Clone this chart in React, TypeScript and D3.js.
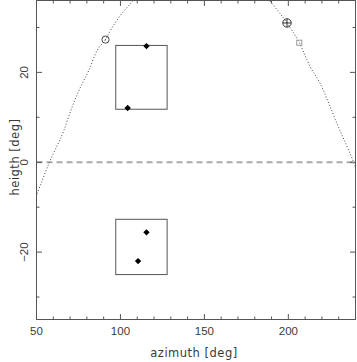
import React from "react";
import * as d3 from "d3";

const W = 357;
const H = 362;

const xDomain = [50, 240];
const yDomain = [-35, 36];
const xMajorTicks = [50, 100, 150, 200];
const xMinorTicks = [60, 70, 80, 90, 110, 120, 130, 140, 160, 170, 180, 190, 210, 220, 230];
const yMajorTicks = [-20, 0, 20];
const yMinorTicks = [-30, -10, 10, 30];

// sun path (azimuth, height)
const pathAz = [50.4, 57.7, 66.3, 70.8, 76.2, 81.1, 86.1, 91.1, 94, 100, 106, 120, 135, 148, 162, 176, 190.3, 199.2, 206.5, 213.1, 219, 225.4, 229.9, 235.9, 238.9, 240.5];
const pathH = [-7.0, 0, 7.1, 11.9, 16.7, 20.4, 24.9, 27.3, 29.3, 32.7, 35.3, 41.0, 44.4, 45.4, 44.3, 41.2, 35.3, 31.0, 26.6, 21.2, 17.5, 11.9, 7.8, 2.7, 0, -1.8];

// boxes: [azMin, azMax, hMin, hMax]
const boxAzMin = [97.2, 97.2];
const boxAzMax = [127.8, 127.8];
const boxHMin = [11.8, -25.0];
const boxHMax = [26.0, -12.7];

// diamonds
const diamondAz = [115.5, 104.3, 115.5, 110.5];
const diamondH = [25.85, 12.07, -15.6, -22.0];

// special markers
const circleMarker = [91.1, 27.3];
const sunMarker = [199.2, 31.0];
const squareMarker = [206.5, 26.6];

export default function App() {
  const left = 36.5, right = 355.5, top = 0.5, bottom = 319.5;
  const x = d3.scaleLinear().domain(xDomain).range([left, right]);
  const y = d3.scaleLinear().domain(yDomain).range([bottom, top]);

  const pts = pathAz.map((a, i) => [a, pathH[i]] as [number, number]);
  const line = d3
    .line<[number, number]>()
    .x((d) => x(d[0]))
    .y((d) => y(d[1]))
    .curve(d3.curveMonotoneX);

  const axisColor = "#555";
  const maj = 5.5, min = 3;
  const font = "'Liberation Sans', Arial, sans-serif";
  const textColor = "#3a3a3a";

  return (
    <svg width={W} height={H} style={{ position: "absolute", left: 0, top: 0, background: "#fff" }}>
      <defs>
        <clipPath id="plotclip">
          <rect x={left} y={top} width={right - left} height={bottom - top} />
        </clipPath>
      </defs>
      <rect x={0} y={0} width={W} height={H} fill="#fff" />

      {/* zero dashed line */}
      <line x1={left} x2={right} y1={y(0)} y2={y(0)} stroke="#aaa" strokeWidth={2} strokeDasharray="6 4" />

      {/* dotted sun path */}
      <path d={line(pts) || ""} fill="none" stroke="#444" strokeWidth={1} strokeDasharray="1 2" clipPath="url(#plotclip)" />

      {/* boxes */}
      {boxAzMin.map((a, i) => (
        <rect
          key={"b" + i}
          x={x(a)}
          y={y(boxHMax[i])}
          width={x(boxAzMax[i]) - x(a)}
          height={y(boxHMin[i]) - y(boxHMax[i])}
          fill="none"
          stroke="#555"
          strokeWidth={1}
        />
      ))}

      {/* diamonds */}
      {diamondAz.map((a, i) => {
        const cx = x(a), cy = y(diamondH[i]), r = 3.2;
        return (
          <path
            key={"d" + i}
            d={`M${cx},${cy - r}L${cx + r},${cy}L${cx},${cy + r}L${cx - r},${cy}Z`}
            fill="#000"
          />
        );
      })}

      {/* circle marker */}
      <circle cx={x(circleMarker[0])} cy={y(circleMarker[1])} r={3.6} fill="none" stroke="#444" strokeWidth={1} />
      <circle cx={x(circleMarker[0])} cy={y(circleMarker[1])} r={0.6} fill="#444" />

      {/* sun marker */}
      <g stroke="#333" strokeWidth={1} fill="none">
        <circle cx={x(sunMarker[0])} cy={y(sunMarker[1])} r={4.2} />
        <line x1={x(sunMarker[0]) - 4.2} x2={x(sunMarker[0]) + 4.2} y1={y(sunMarker[1])} y2={y(sunMarker[1])} />
        <line x1={x(sunMarker[0])} x2={x(sunMarker[0])} y1={y(sunMarker[1]) - 4.2} y2={y(sunMarker[1]) + 4.2} />
      </g>

      {/* square marker */}
      <rect x={x(squareMarker[0]) - 2.5} y={y(squareMarker[1]) - 2.5} width={5} height={5} fill="none" stroke="#999" strokeWidth={1} />

      {/* frame */}
      <rect x={left} y={top} width={right - left} height={bottom - top} fill="none" stroke={axisColor} strokeWidth={1} />

      {/* x ticks */}
      {xMajorTicks.map((t) => (
        <g key={"xM" + t} stroke={axisColor}>
          <line x1={x(t)} x2={x(t)} y1={bottom} y2={bottom - maj} />
          <line x1={x(t)} x2={x(t)} y1={top} y2={top + maj} />
        </g>
      ))}
      {xMinorTicks.map((t) => (
        <g key={"xm" + t} stroke={axisColor}>
          <line x1={x(t)} x2={x(t)} y1={bottom} y2={bottom - min} />
          <line x1={x(t)} x2={x(t)} y1={top} y2={top + min} />
        </g>
      ))}
      {/* y ticks */}
      {yMajorTicks.map((t) => (
        <g key={"yM" + t} stroke={axisColor}>
          <line x1={left} x2={left + maj} y1={y(t)} y2={y(t)} />
          <line x1={right} x2={right - maj} y1={y(t)} y2={y(t)} />
        </g>
      ))}
      {yMinorTicks.map((t) => (
        <g key={"ym" + t} stroke={axisColor}>
          <line x1={left} x2={left + min} y1={y(t)} y2={y(t)} />
          <line x1={right} x2={right - min} y1={y(t)} y2={y(t)} />
        </g>
      ))}

      {/* tick labels */}
      {xMajorTicks.map((t) => (
        <text key={"xl" + t} x={x(t)} y={335} textAnchor="middle" fontFamily={font} fontSize={11.5} fill={textColor}>
          {String(t)}
        </text>
      ))}
      {yMajorTicks.map((t) => (
        <text
          key={"yl" + t}
          transform={`translate(28.2,${y(t)}) rotate(-90)`}
          textAnchor="middle"
          fontFamily={font}
          fontSize={11.5}
          fill={textColor}
        >
          {t < 0 ? "\u2212" + Math.abs(t) : String(t)}
        </text>
      ))}

      {/* axis titles */}
      <text x={(left + right) / 2 - 2} y={357} textAnchor="middle" fontFamily="'DejaVu Sans', sans-serif" fontSize={11.5} letterSpacing={0.5} fill={textColor}>
        azimuth [deg]
      </text>
      <text
        transform={`translate(18.5,157) rotate(-90)`}
        textAnchor="middle"
        fontFamily="'DejaVu Sans', sans-serif"
        fontSize={11.5}
        letterSpacing={0.5}
        fill={textColor}
      >
        heigth [deg]
      </text>
    </svg>
  );
}
